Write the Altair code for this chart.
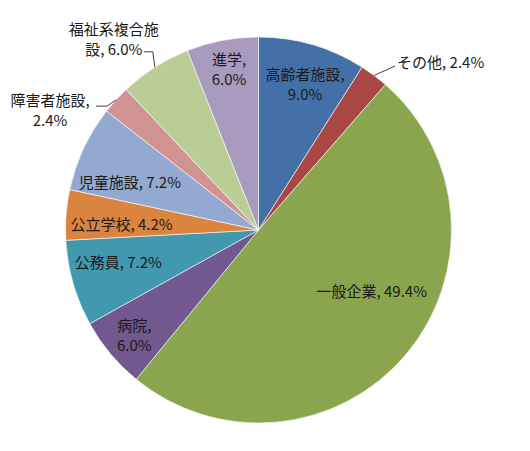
import math
import altair as alt
import pandas as pd

# ---- data ----
categories = ["高齢者施設", "その他", "一般企業", "病院", "公務員",
              "公立学校", "児童施設", "障害者施設", "福祉系複合施設", "進学"]
values = [9.0, 2.4, 49.4, 6.0, 7.2, 4.2, 7.2, 2.4, 6.0, 6.0]
label_texts = ["高齢者施設,\n9.0%", "その他, 2.4%", "一般企業, 49.4%", "病院,\n6.0%",
               "公務員, 7.2%", "公立学校, 4.2%", "児童施設, 7.2%", "障害者施設,\n2.4%",
               "福祉系複合施\n設, 6.0%", "進学,\n6.0%"]

# ---- style / layout ----
colors = ["#4470A8", "#AA4643", "#89A54E", "#71588F", "#4198AF",
          "#DB843D", "#93A9CF", "#D19392", "#B9CD96", "#A99BBD"]
CX, CY, R = 250.5, 222.0, 193.0
LINE_H = 20
label_r = [152, 217, 129, 163, 144, 137, 137, 240, 239, 163]
label_da = [1.6, 2.9, -11.6, -0.5, 2.9, -2.4, -4.9, -12.7, -4.8, 0.4]
label_align = ["center", "left", "center", "center", "center",
               "center", "center", "center", "center", "center"]
# leader lines: (slice index, offsets from label anchor for the non-edge points)
leaders = [(1, [(-2, 3)]),
           (8, [(39, 12), (30, 12)]),
           (7, [(57, -5), (46, -5)])]

total = sum(values)
mids = []
acc = 0.0
for v in values:
    mids.append((acc + v / 2) / total * 360.0)
    acc += v

def polar(ang, r):
    a = math.radians(ang)
    return CX + r * math.sin(a), CY - r * math.cos(a)

df = pd.DataFrame({"category": categories, "value": values, "idx": list(range(len(values)))})

lab_rows = []
for i, t in enumerate(label_texts):
    x, y = polar(mids[i] + label_da[i], label_r[i])
    n = t.count("\n") + 1
    lab_rows.append({"label": t, "lx": x, "ly": y, "ty": y - (n - 1) * LINE_H / 2,
                     "align": label_align[i]})
lab = pd.DataFrame(lab_rows)

line_rows = []
for lid, (i, pts) in enumerate(leaders):
    ex, ey = polar(mids[i], R)
    ax, ay = lab_rows[i]["lx"], lab_rows[i]["ly"]
    line_rows.append({"lid": lid, "pt": 0, "x": ex, "y": ey})
    for k, (dx, dy) in enumerate(pts):
        line_rows.append({"lid": lid, "pt": k + 1, "x": ax + dx, "y": ay + dy})
lines = pd.DataFrame(line_rows)

arcs = alt.Chart(df).mark_arc(outerRadius=R, stroke="white", strokeWidth=0.6).encode(
    theta=alt.Theta("value:Q", stack=True),
    color=alt.Color("category:N", scale=alt.Scale(domain=categories, range=colors), legend=None),
    order=alt.Order("idx:Q"),
    x=alt.value(CX),
    y=alt.value(CY),
)

leader_lines = alt.Chart(lines).mark_line(color="#404040", strokeWidth=1).encode(
    x=alt.X("x:Q", scale=None, axis=None),
    y=alt.Y("y:Q", scale=None, axis=None),
    detail="lid:N",
    order="pt:Q",
)

def text_layer(align):
    return alt.Chart(lab[lab["align"] == align]).mark_text(
        align=align, baseline="middle", lineBreak="\n", lineHeight=LINE_H,
        font="Noto Sans CJK JP", fontSize=15, color="#1a1a1a",
    ).encode(
        x=alt.X("lx:Q", scale=None, axis=None),
        y=alt.Y("ty:Q", scale=None, axis=None),
        text="label:N",
    )

chart = alt.layer(arcs, leader_lines, text_layer("center"), text_layer("left")).properties(
    width=514, height=435, padding=0, autosize=alt.AutoSizeParams(type="none"),
).configure_view(stroke=None)

chart.save("out.html", embed_options={"renderer": "svg", "actions": False})
